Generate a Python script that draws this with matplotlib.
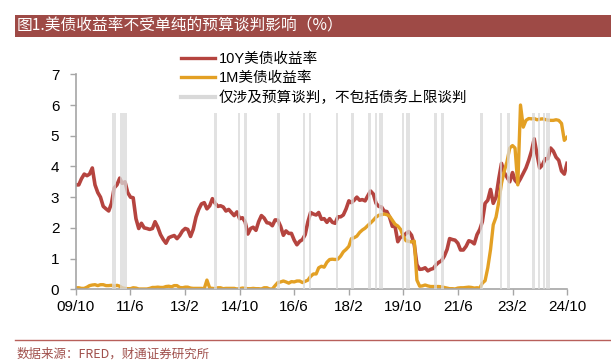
import matplotlib
matplotlib.use('Agg')
import matplotlib.pyplot as plt
from matplotlib.lines import Line2D
from matplotlib.patches import Rectangle
import pandas as pd

plt.rcParams['font.family'] = ['Liberation Sans', 'Noto Sans CJK SC', 'DejaVu Sans']

# 月度数据 2009/10 - 2024/10
months = pd.date_range('2009-10-01', '2024-10-01', freq='MS')

y10 = [3.40, 3.40, 3.60,
       3.75, 3.70, 3.75, 3.95, 3.40, 3.15, 3.00, 2.70, 2.62, 2.55, 2.80, 3.30,
       3.40, 3.62, 3.45, 3.50, 3.15, 3.00, 2.98, 2.30, 1.98, 2.15, 2.00, 1.98,
       1.95, 1.98, 2.20, 2.02, 1.78, 1.62, 1.50, 1.68, 1.72, 1.75, 1.65, 1.75,
       1.90, 1.98, 1.95, 1.72, 1.95, 2.35, 2.60, 2.78, 2.82, 2.62, 2.72, 2.95,
       2.80, 2.70, 2.72, 2.68, 2.55, 2.60, 2.50, 2.40, 2.52, 2.30, 2.33, 2.20,
       1.80, 1.98, 2.02, 1.92, 2.20, 2.40, 2.32, 2.17, 2.15, 2.07, 2.26, 2.25,
       2.05, 1.76, 1.90, 1.82, 1.82, 1.60, 1.45, 1.56, 1.62, 1.78, 2.20, 2.50,
       2.45, 2.42, 2.50, 2.28, 2.30, 2.18, 2.30, 2.18, 2.15, 2.36, 2.36, 2.42,
       2.62, 2.88, 2.82, 2.90, 3.00, 2.90, 2.92, 2.88, 3.05, 3.20, 3.10, 2.80,
       2.70, 2.68, 2.55, 2.53, 2.35, 2.05, 2.05, 1.55, 1.70, 1.72, 1.82, 1.88,
       1.76, 1.45, 0.80, 0.65, 0.66, 0.70, 0.60, 0.65, 0.68, 0.80, 0.88, 0.93,
       1.08, 1.30, 1.65, 1.62, 1.60, 1.50, 1.28, 1.28, 1.40, 1.58, 1.55, 1.48,
       1.78, 1.95, 2.20, 2.80, 2.90, 3.25, 2.80, 3.00, 3.60, 4.10, 3.80, 3.65,
       3.50, 3.80, 3.55, 3.45, 3.60, 3.78, 3.95, 4.20, 4.50, 4.90, 4.40, 3.95,
       4.05, 4.25, 4.25, 4.60, 4.50, 4.30, 4.20, 3.85, 3.75, 4.10]

y1m = [0.05, 0.05, 0.03,
       0.03, 0.07, 0.12, 0.14, 0.15, 0.12, 0.15, 0.15, 0.12, 0.12, 0.13, 0.10,
       0.13, 0.10, 0.05, 0.03, 0.02, 0.02, 0.05, 0.04, 0.01, 0.01, 0.01, 0.01,
       0.03, 0.06, 0.06, 0.07, 0.06, 0.06, 0.09, 0.10, 0.08, 0.12, 0.12, 0.06,
       0.05, 0.07, 0.07, 0.04, 0.03, 0.03, 0.03, 0.03, 0.02, 0.30, 0.04, 0.03,
       0.02, 0.05, 0.05, 0.02, 0.03, 0.03, 0.03, 0.03, 0.01, 0.02, 0.04, 0.03,
       0.02, 0.02, 0.03, 0.02, 0.02, 0.01, 0.05, 0.05, 0.01, 0.01, 0.12, 0.22,
       0.24, 0.27, 0.24, 0.20, 0.25, 0.24, 0.27, 0.27, 0.22, 0.26, 0.30, 0.42,
       0.50, 0.50, 0.70, 0.75, 0.72, 0.88, 0.97, 0.98, 0.97, 0.98, 1.08, 1.22,
       1.30, 1.40, 1.65, 1.68, 1.73, 1.85, 1.93, 1.99, 2.08, 2.16, 2.25, 2.35,
       2.41, 2.43, 2.45, 2.43, 2.38, 2.25, 2.12, 2.06, 1.95, 1.72, 1.58, 1.56,
       1.54, 1.57, 0.30, 0.10, 0.11, 0.14, 0.11, 0.09, 0.09, 0.09, 0.09, 0.08,
       0.06, 0.04, 0.02, 0.02, 0.01, 0.04, 0.05, 0.05, 0.06, 0.07, 0.06, 0.04,
       0.05, 0.04, 0.20, 0.28, 0.70, 1.30, 2.10, 2.35, 2.85, 3.45, 3.85, 4.15,
       4.60, 4.68, 4.60, 3.40, 6.00, 5.28, 5.50, 5.56, 5.55, 5.56, 5.52, 5.54,
       5.55, 5.53, 5.51, 5.50, 5.50, 5.52, 5.50, 5.40, 4.85, 4.95]

# 预算谈判时段
band_start = ['2010-11-10', '2011-02-04', '2013-12-21', '2014-09-08', '2014-11-21',
              '2015-11-20', '2016-09-10', '2016-11-16', '2017-09-09', '2018-02-28',
              '2018-09-05', '2018-11-15', '2018-12-29', '2019-09-12', '2019-10-29',
              '2020-09-10', '2020-11-21', '2022-01-30', '2022-09-10', '2022-11-27',
              '2023-09-05', '2023-11-07', '2024-01-05', '2024-02-12']
band_end = ['2010-12-17', '2011-04-18', '2014-01-18', '2014-10-04', '2014-12-17',
            '2015-12-20', '2016-10-04', '2016-12-10', '2017-10-05', '2018-03-25',
            '2018-10-01', '2018-12-10', '2019-02-16', '2019-10-07', '2019-12-13',
            '2020-10-07', '2021-01-01', '2022-03-10', '2022-10-04', '2023-01-03',
            '2023-10-05', '2023-12-06', '2024-02-01', '2024-03-26']
band_top = 5.75

tick_dates = ['2009-10-01', '2011-06-01', '2013-02-01', '2014-10-01', '2016-06-01',
              '2018-02-01', '2019-10-01', '2021-06-01', '2023-02-01', '2024-10-01']
tick_labels = ['09/10', '11/6', '13/2', '14/10', '16/6', '18/2', '19/10', '21/6', '23/2', '24/10']

c_red = '#B5443F'
c_yel = '#E3A024'
c_band = '#D9D9D9'
c_axis = '#A6A6A6'

fig = plt.figure(figsize=(6.11, 3.63), dpi=100)
ax = fig.add_axes([76/611, 1-289.3/363, 491/611, 215/363])

ax.plot(months, y10, color=c_red, lw=2.6, zorder=2)
ax.plot(months, y1m, color=c_yel, lw=2.4, zorder=2.1)
for s, e in zip(band_start, band_end):
    ax.fill_between([pd.Timestamp(s), pd.Timestamp(e)], 0, band_top,
                    color=c_band, alpha=0.75, lw=0, zorder=3)

ax.set_xlim(pd.Timestamp('2009-10-01'), pd.Timestamp('2024-10-01'))
ax.set_ylim(0, 7)
ax.set_yticks(range(8))
ax.set_xticks([pd.Timestamp(d) for d in tick_dates])
ax.set_xticklabels(tick_labels)
for sp in ['top', 'right']:
    ax.spines[sp].set_visible(False)
for sp in ['left', 'bottom']:
    ax.spines[sp].set_color(c_axis)
    ax.spines[sp].set_linewidth(1.2)
ax.tick_params(axis='both', colors=c_axis, labelcolor='black', labelsize=11, length=4, width=1)
ax.tick_params(axis='y', pad=8)
ax.tick_params(axis='x', pad=4)

# 图例
handles = [Line2D([], [], color=c_red, lw=2.4),
           Line2D([], [], color=c_yel, lw=2.4),
           Line2D([], [], color=c_band, lw=3)]
labels = ['10Y美债收益率', '1M美债收益率', '仅涉及预算谈判，不包括债务上限谈判']
fig.legend(handles, labels, loc='upper left', bbox_to_anchor=(181/611, 1-52/363),
           frameon=False, borderpad=0, borderaxespad=0, handlelength=2.3,
           handletextpad=0.3, labelspacing=0.35,
           prop={'family': ['Liberation Sans', 'Noto Sans CJK SC'], 'size': 10.5})

# 标题栏
fig.patches.append(Rectangle((15/611, 1-37/363), 596/611, 22/363, transform=fig.transFigure,
                             facecolor='#9E4A46', edgecolor='none'))
fig.text(17/611, 1-26/363, '图1.美债收益率不受单纯的预算谈判影响（%）', color='white',
         fontsize=11.3, va='center', ha='left', family=['Noto Sans CJK SC', 'DejaVu Sans'])

# 底部
fig.add_artist(Line2D([15/611, 1], [1-340/363, 1-340/363], color='#B8605B', lw=1,
                      transform=fig.transFigure))
fig.text(17/611, 1-354/363, '数据来源：FRED，财通证券研究所', color='#A0504C',
         fontsize=9, va='center', ha='left', family=['Noto Sans CJK SC', 'DejaVu Sans'])

fig.savefig('out.png', dpi=100)
